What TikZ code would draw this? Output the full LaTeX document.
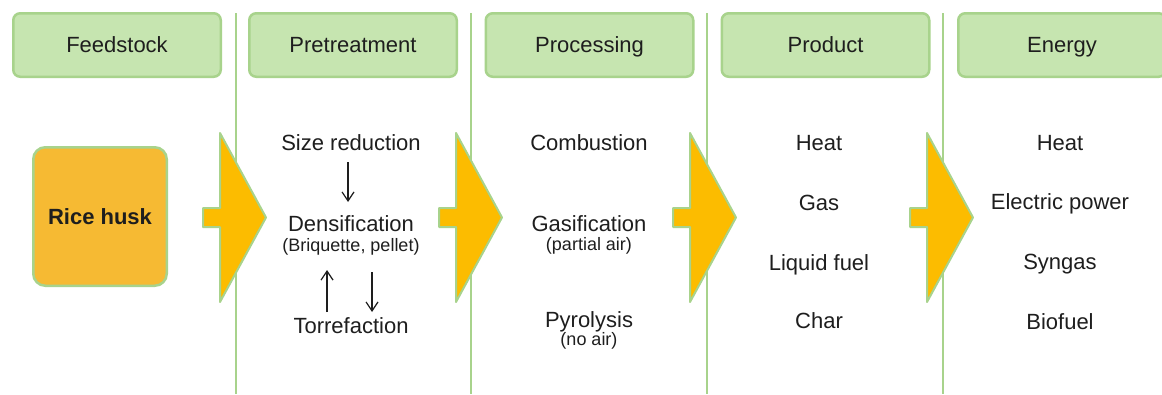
\documentclass[tikz,border=0pt]{standalone}
\usepackage{fontspec}
\setmainfont{Liberation Sans}
\usetikzlibrary{arrows.meta,calc}
\definecolor{hdrfill}{HTML}{C6E5B0}
\definecolor{hdrline}{HTML}{A8D38C}
\definecolor{huskfill}{HTML}{F6BA33}
\definecolor{flowfill}{HTML}{FCBC00}
\definecolor{ink}{HTML}{1E1E1E}

\begin{document}
\begin{tikzpicture}[x=1pt,y=-1pt,
  header/.style={draw=hdrline, line width=2.5pt, fill=hdrfill, rounded corners=7pt,
    minimum width=207.5pt, minimum height=63.5pt, inner sep=0pt, text=ink,
    text height=15.8pt, text depth=0pt, font=\fontsize{22}{26}\selectfont},
  item/.style={inner sep=0pt, anchor=base, text=ink, font=\fontsize{22}{26}\selectfont},
  note/.style={inner sep=0pt, anchor=base, text=ink, font=\fontsize{18}{21}\selectfont},
  divider/.style={draw=hdrline, line width=2.5pt},
  flow/.style={fill=flowfill, draw=hdrline, line width=2pt, line join=round},
  sarrow/.style={draw=ink, line width=1.2pt, -{Straight Barb[length=9pt,width=12pt]}}]

\useasboundingbox (0,0) rectangle (1162,394);
\fill[white] (0,0) rectangle (1162,394);

% column dividers
\foreach \x in {236,471,707,943}
  \draw[divider] (\x,13) -- (\x,394);

% column headers
\node[header] (hfeed) at (117,45) {Feedstock};
\node[header] (hpre)  at (353,45) {Pretreatment};
\node[header] (hproc) at (589.5,45) {Processing};
\node[header] (hprod) at (825.5,45) {Product};
\node[header] (hen)   at (1062,45) {Energy};

% feedstock
\node[draw=hdrline, line width=2.5pt, fill=huskfill, rounded corners=12pt,
  minimum width=133.5pt, minimum height=138.5pt, inner sep=0pt, text=ink,
  text height=15.5pt, text depth=0pt, font=\fontsize{22}{26}\selectfont\bfseries]
  (husk) at (100,216.5) {Rice husk};

% flow chevrons between the columns
\foreach \L in {220,456,690,927}
  \draw[flow] (\L-17,208) -- (\L,208) -- (\L,133) -- (\L+46,217.5)
    -- (\L,302) -- (\L,227) -- (\L-17,227) -- cycle;

% pretreatment
\node[item] (size) at (351,150) {Size reduction};
\node[item] (dens) at (351,231) {Densification};
\node[note] (briq) at (351,251) {(Briquette, pellet)};
\node[item] (torr) at (351,333) {Torrefaction};
\draw[sarrow] ($(size.base)+(-3,12)$) -- ($(dens.base)+(-3,-29)$);
\draw[sarrow] ($(torr.base)+(-24,-21)$) -- ($(dens.base)+(-24,39)$);
\draw[sarrow] ($(dens.base)+(21,41)$) -- ($(torr.base)+(21,-21)$);

% processing
\node[item] (comb) at (589,150) {Combustion};
\node[item] (gasi) at (589,231) {Gasification};
\node[note] (pair) at (589,250) {(partial air)};
\node[item] (pyro) at (589,327) {Pyrolysis};
\node[note] (nair) at (589,345) {(no air)};

% product
\node[item] (pheat) at (819,150) {Heat};
\node[item] (pgas)  at (819,210) {Gas};
\node[item] (pliq)  at (819,270) {Liquid fuel};
\node[item] (pchar) at (819,328) {Char};

% energy
\node[item] (eheat) at (1060,150) {Heat};
\node[item] (eelec) at (1060,209) {Electric power};
\node[item] (esyn)  at (1060,269) {Syngas};
\node[item] (ebio)  at (1060,329) {Biofuel};
\end{tikzpicture}
\end{document}
